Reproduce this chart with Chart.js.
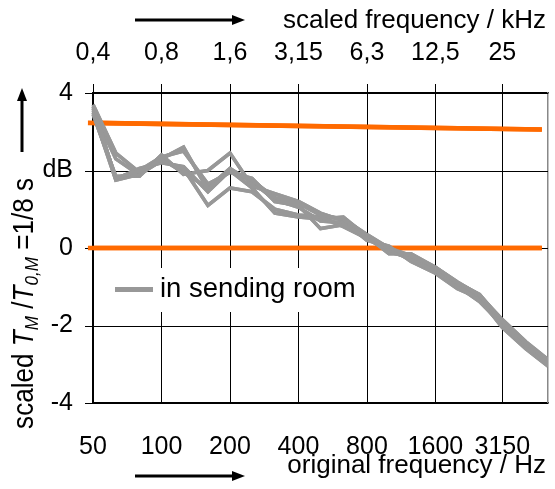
<!DOCTYPE html>
<html lang="en">
<head>
  <meta charset="UTF-8">
  <title>scaled T_M / T_0,M</title>
  <script src="https://cdn.jsdelivr.net/npm/chart.js"></script>
  <style>
    html, body { margin: 0; padding: 0; background: #fff; }
    #wrap { width: 555px; height: 489px; position: relative; }
  </style>
</head>
<body>
  <div id="wrap"><canvas id="chart"></canvas></div>

  <script>
    // third-octave bands, original frequency in Hz
    const freqs = [50, 63, 80, 100, 125, 160, 200, 250, 315, 400, 500, 630, 800, 1000, 1250, 1600, 2000, 2500, 3150, 4000, 5000];

    // level of the single measurements (dB)
    const room1 = [3.70, 2.45, 1.95, 2.30, 2.60, 1.50, 2.00, 1.75, 1.30, 1.15, 0.85, 0.75, 0.35, 0.00, -0.20, -0.50, -0.90, -1.20, -1.90, -2.45, -2.90];
    const room2 = [3.60, 1.80, 2.00, 2.35, 2.50, 1.65, 1.95, 1.80, 1.20, 1.10, 0.50, 0.60, 0.30, -0.05, -0.30, -0.60, -1.00, -1.35, -2.00, -2.55, -3.00];
    const room3 = [3.50, 1.75, 1.90, 2.25, 2.05, 1.10, 1.55, 1.45, 1.00, 0.85, 0.80, 0.55, 0.25, -0.10, -0.25, -0.55, -0.95, -1.25, -1.95, -2.50, -2.95];
    const room4 = [3.45, 1.85, 1.85, 2.40, 1.90, 2.00, 2.45, 1.60, 1.40, 1.20, 0.90, 0.70, 0.20, 0.05, -0.35, -0.65, -1.05, -1.30, -2.05, -2.60, -3.05];
    const room5 = [3.65, 1.78, 2.05, 2.20, 2.10, 1.45, 2.00, 1.55, 0.90, 0.80, 0.75, 0.80, 0.30, -0.15, -0.15, -0.50, -0.88, -1.22, -1.85, -2.42, -2.88];
    const room6 = [3.55, 2.30, 1.88, 2.30, 1.95, 1.55, 2.05, 1.70, 1.25, 1.05, 0.70, 0.65, 0.28, -0.02, -0.28, -0.58, -0.98, -1.38, -1.98, -2.52, -3.00];
    const rooms = [room1, room2, room3, room4, room5, room6];

    // orange reference lines (end points)
    const refFreqs = [47.5, 4700];
    const refUpper = [3.23, 3.06];
    const refZero = [0, 0];

    // axis labels
    const tickFreqs = [50, 100, 200, 400, 800, 1600, 3150];
    const bottomLabels = ['50', '100', '200', '400', '800', '1600', '3150'];
    const topLabels = ['0,4', '0,8', '1,6', '3,15', '6,3', '12,5', '25'];
    const yTicks = [-4, -2, 0, 2, 4];
    const yLabels = ['-4', '-2', '0', 'dB', '4'];

    const FONT = '"Liberation Sans", Arial, sans-serif';
    const GRAY = '#989898';
    const ORANGE = '#ff6a00';

    function toPoints(xs, ys) {
      return xs.map((x, i) => ({ x: x, y: ys[i] }));
    }

    const datasets = rooms.map((r, i) => ({
      label: i === 0 ? 'in sending room' : '',
      data: toPoints(freqs, r),
      borderColor: GRAY,
      borderWidth: 3.6,
      pointRadius: 0,
      fill: false
    }));
    datasets.push({
      label: '',
      data: toPoints(refFreqs, refUpper),
      borderColor: ORANGE,
      borderWidth: 4.6,
      pointRadius: 0,
      fill: false
    });
    datasets.push({
      label: '',
      data: toPoints(refFreqs, refZero),
      borderColor: ORANGE,
      borderWidth: 4.6,
      pointRadius: 0,
      fill: false
    });

    function arrow(c, x1, y1, x2, y2) {
      const a = Math.atan2(y2 - y1, x2 - x1);
      const hl = 13, hw = 5;
      c.save();
      c.strokeStyle = '#000';
      c.fillStyle = '#000';
      c.lineWidth = 3;
      c.beginPath();
      c.moveTo(x1, y1);
      c.lineTo(x2 - hl * Math.cos(a), y2 - hl * Math.sin(a));
      c.stroke();
      c.beginPath();
      c.moveTo(x2, y2);
      c.lineTo(x2 - hl * Math.cos(a) - hw * Math.sin(a), y2 - hl * Math.sin(a) + hw * Math.cos(a));
      c.lineTo(x2 - hl * Math.cos(a) + hw * Math.sin(a), y2 - hl * Math.sin(a) - hw * Math.cos(a));
      c.closePath();
      c.fill();
      c.restore();
    }

    // grid, titles, arrows and the legend box
    const decorations = {
      id: 'decorations',
      afterDraw(chart) {
        const c = chart.ctx;
        const area = chart.chartArea;
        const sx = chart.scales.x, sy = chart.scales.y;

        // grid lines and tick marks at the chart's own tick positions (thin filled bars)
        c.save();
        c.globalCompositeOperation = 'source-over';
        c.globalAlpha = 1;
        c.setLineDash([]);
        c.fillStyle = '#000';
        tickFreqs.forEach(f => {
          const px = Math.round(sx.getPixelForValue(f));
          c.fillRect(px, Math.round(area.top) - 9, 1, Math.round(area.bottom - area.top) + 9);
        });
        yTicks.forEach(v => {
          const py = Math.round(sy.getPixelForValue(v));
          c.fillRect(Math.round(area.left) - 8, py, Math.round(area.right - area.left) + 8, 1);
        });
        c.restore();

        // put the measured lines back on top of the grid
        c.save();
        c.beginPath();
        c.rect(area.left - 6, area.top - 3, area.right - area.left + 6, area.bottom - area.top + 6);
        c.clip();
        chart.getSortedVisibleDatasetMetas().slice().reverse().forEach(m => m.controller.draw());
        c.restore();

        c.save();
        c.fillStyle = '#000';
        c.font = '26px ' + FONT;
        c.textBaseline = 'middle';
        c.textAlign = 'right';
        c.fillText('scaled frequency / kHz', 546, 21);
        c.fillText('original frequency / Hz', 546, 466);
        c.restore();
        arrow(c, 135, 20, 245, 20);
        arrow(c, 135, 476, 245, 476);
        arrow(c, 22, 152, 22, 88);

        // rotated y title with italic subscripts
        const parts = [
          { t: 'scaled ', f: '29px ' + FONT, dy: 0 },
          { t: 'T', f: 'italic 29px ' + FONT, dy: 0 },
          { t: 'M', f: 'italic 19px ' + FONT, dy: 5 },
          { t: ' /', f: '29px ' + FONT, dy: 0 },
          { t: 'T', f: 'italic 29px ' + FONT, dy: 0 },
          { t: '0,M', f: 'italic 19px ' + FONT, dy: 5 },
          { t: ' =1/8 s', f: '29px ' + FONT, dy: 0 }
        ];
        const squeeze = 0.9;
        c.save();
        let total = 0;
        parts.forEach(p => { c.font = p.f; p.w = c.measureText(p.t).width; total += p.w; });
        c.fillStyle = '#000';
        c.translate(33, 178 + total * squeeze);
        c.rotate(-Math.PI / 2);
        c.scale(squeeze, 1);
        c.textAlign = 'left';
        c.textBaseline = 'alphabetic';
        let u = 0;
        parts.forEach(p => { c.font = p.f; c.fillText(p.t, u, p.dy); u += p.w; });
        c.restore();

        // legend
        c.save();
        c.fillStyle = '#fff';
        c.fillRect(101, 268, 262, 44);
        c.fillStyle = GRAY;
        c.fillRect(115, 287, 38, 5);
        c.fillStyle = '#000';
        c.font = '27.5px ' + FONT;
        c.textBaseline = 'middle';
        c.textAlign = 'left';
        c.fillText(chart.data.datasets[0].label, 160, 289);
        c.restore();
      }
    };

    new Chart(document.getElementById('chart').getContext('2d'), {
      type: 'line',
      data: { datasets: datasets },
      plugins: [decorations],
      options: {
        responsive: true,
        maintainAspectRatio: false,
        animation: false,
        plugins: { legend: { display: false } },
        scales: {
          x: {
            type: 'logarithmic', position: 'bottom', min: 50, max: 5000,
            afterBuildTicks: s => { s.ticks = tickFreqs.map(v => ({ value: v })); },
            afterFit: s => { s.height = 86; },
            ticks: {
              autoSkip: false, maxRotation: 0, minRotation: 0, padding: 21, color: '#000',
              font: { family: FONT, size: 25 },
              callback: (v, i) => bottomLabels[i]
            },
            grid: { display: false },
            border: { color: '#000', width: 1.5 }
          },
          x2: {
            type: 'logarithmic', position: 'top', min: 50, max: 5000,
            afterBuildTicks: s => { s.ticks = tickFreqs.map(v => ({ value: v })); },
            afterFit: s => { s.height = 93; },
            ticks: {
              autoSkip: false, maxRotation: 0, minRotation: 0, padding: 17, color: '#000',
              font: { family: FONT, size: 25 },
              callback: (v, i) => topLabels[i]
            },
            grid: { display: false },
            border: { color: '#000', width: 1.5 }
          },
          y: {
            min: -4, max: 4,
            afterBuildTicks: s => { s.ticks = yTicks.map(v => ({ value: v })); },
            afterFit: s => { s.width = 93; },
            ticks: {
              padding: 12, color: '#000',
              font: { family: FONT, size: 25 },
              callback: (v, i) => yLabels[i]
            },
            grid: { display: false },
            border: { color: '#000', width: 1.5 }
          },
          y2: {
            position: 'right', min: -4, max: 4,
            afterFit: s => { s.width = 7; },
            ticks: { display: false },
            grid: { display: false },
            border: { color: '#888', width: 1.5 }
          }
        }
      }
    });
  </script>
</body>
</html>
